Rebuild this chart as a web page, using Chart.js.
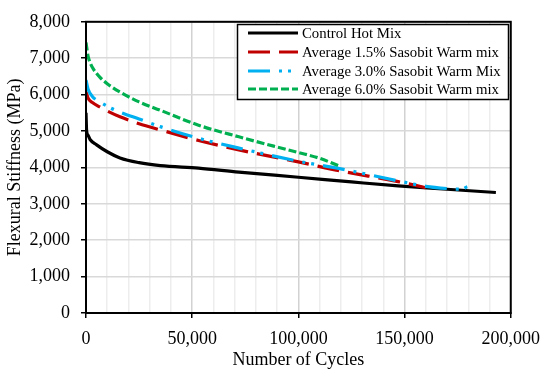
<!DOCTYPE html>
<html>
<head>
<meta charset="utf-8">
<script src="https://cdn.jsdelivr.net/npm/chart.js@4/dist/chart.umd.min.js"></script>
<style>
  html, body { margin: 0; padding: 0; background: #fff; }
  canvas { display: block; }
</style>
</head>
<body>
<canvas id="stiffnessChart" width="550" height="381"></canvas>
<script>
// 読み取った値 (サイクル数, 曲げ剛性 MPa)
const controlCycles = [0, 300, 1000, 2000, 5000, 10000, 16000, 25000, 35000, 53000, 72000, 100000, 125000, 147000, 170000, 193000];
const controlValues = [5500, 5000, 4880, 4760, 4620, 4430, 4260, 4130, 4050, 3980, 3870, 3730, 3600, 3490, 3400, 3310];

const sas15Cycles = [0, 1000, 3000, 6500, 10000, 16000, 25000, 35000, 53000, 72000, 100000, 120000, 147000, 160000];
const sas15Values = [6080, 5900, 5780, 5660, 5550, 5390, 5200, 5030, 4740, 4480, 4150, 3900, 3610, 3440];

const sas30Cycles = [0, 1000, 3000, 6500, 10000, 16000, 25000, 35000, 53000, 72000, 100000, 120000, 147000, 160000, 170000, 177000, 180000, 183000];
const sas30Values = [6400, 6150, 5950, 5800, 5680, 5520, 5330, 5120, 4800, 4530, 4170, 3960, 3630, 3480, 3420, 3400, 3470, 3380];

const sas60Cycles = [0, 1000, 2000, 3500, 6500, 10000, 16000, 25000, 35000, 53000, 72000, 90000, 100000, 110000, 120000];
const sas60Values = [7430, 7050, 6870, 6700, 6480, 6300, 6070, 5800, 5570, 5160, 4840, 4560, 4410, 4250, 4020];

const seriesLabels = [
    'Control Hot Mix',
    'Average 1.5% Sasobit Warm mix',
    'Average 3.0% Sasobit Warm Mix',
    'Average 6.0% Sasobit Warm mix'
];

const yTicks = [0, 1000, 2000, 3000, 4000, 5000, 6000, 7000, 8000];
const xTicks = [0, 50000, 100000, 150000, 200000];

function toPoints(xs, ys) {
    return xs.map((x, i) => ({ x: x, y: ys[i] }));
}

const seriesStyles = [
    { color: '#000000', dash: [] },
    { color: '#c00000', dash: [22, 9] },
    { color: '#00b0f0', dash: [22, 9, 3, 6, 3, 9] },
    { color: '#00b050', dash: [8, 3] }
];

Chart.defaults.font.family = '"Liberation Serif", "Times New Roman", serif';
Chart.defaults.font.size = 18;
Chart.defaults.color = '#000';

// 凡例（枠付き）をプロット内に描く
const boxLegend = {
    id: 'boxLegend',
    afterDraw(chart) {
        const c = chart.ctx;
        c.save();
        const bx = 237.5, by = 24.5, bw = 271, bh = 75;
        c.fillStyle = '#fff';
        c.fillRect(bx, by, bw, bh);
        c.strokeStyle = '#000';
        c.lineWidth = 1.5;
        c.strokeRect(bx, by, bw, bh);
        const rows = [33, 52, 71, 89];
        c.font = '14.8px "Liberation Serif", "Times New Roman", serif';
        c.textBaseline = 'middle';
        c.textAlign = 'left';
        seriesLabels.forEach((label, i) => {
            c.beginPath();
            c.setLineDash(seriesStyles[i].dash);
            c.strokeStyle = seriesStyles[i].color;
            c.lineWidth = 3;
            c.moveTo(248, rows[i]);
            c.lineTo(298, rows[i]);
            c.stroke();
            c.setLineDash([]);
            c.fillStyle = '#000';
            c.fillText(label, 302, rows[i] + 1);
        });
        c.restore();
    }
};

// プロットエリアの枠
const plotFrame = {
    id: 'plotFrame',
    afterDatasetsDraw(chart) {
        const a = chart.chartArea;
        const c = chart.ctx;
        c.save();
        c.strokeStyle = '#000';
        c.lineWidth = 2;
        c.strokeRect(a.left, a.top, a.right - a.left, a.bottom - a.top);
        c.restore();
    }
};

const ctx = document.getElementById('stiffnessChart').getContext('2d');
const allSeries = [
    [controlCycles, controlValues],
    [sas15Cycles, sas15Values],
    [sas30Cycles, sas30Values],
    [sas60Cycles, sas60Values]
];

const stiffnessChart = new Chart(ctx, {
    type: 'line',
    data: {
        datasets: allSeries.map((s, i) => ({
            label: seriesLabels[i],
            data: toPoints(s[0], s[1]),
            borderColor: seriesStyles[i].color,
            borderDash: seriesStyles[i].dash,
            borderWidth: 3.2,
            pointRadius: 0,
            cubicInterpolationMode: 'monotone',
            fill: false
        })).reverse()
    },
    options: {
        responsive: false,
        animation: false,
        layout: { padding: { top: 19, right: 37, left: 0, bottom: 0 } },
        plugins: {
            legend: { display: false },
            tooltip: { enabled: false }
        },
        scales: {
            x: {
                type: 'linear',
                min: 0,
                max: 200000,
                afterFit: (scale) => { scale.height = 68; },
                ticks: {
                    stepSize: 10000,
                    autoSkip: false,
                    maxRotation: 0,
                    padding: 10,
                    callback: (v) => xTicks.includes(v) ? v.toLocaleString('en-US') : ''
                },
                grid: {
                    color: (c) => (c.tick && c.tick.value % 50000 === 0) ? '#d2d2d2' : '#ededed',
                    tickColor: (c) => (c.tick && c.tick.value % 50000 === 0) ? '#000' : 'rgba(0,0,0,0)',
                    tickLength: 5,
                    lineWidth: 1.5
                },
                border: { display: true, color: '#000', width: 2 },
                title: {
                    display: true,
                    text: 'Number of Cycles',
                    padding: { top: 0, bottom: 10 }
                }
            },
            y: {
                min: 0,
                max: 8000,
                afterFit: (scale) => { scale.width = 86; },
                ticks: {
                    stepSize: 1000,
                    padding: 11,
                    callback: (v) => yTicks.includes(v) ? v.toLocaleString('en-US') : ''
                },
                grid: {
                    color: '#d9d9d9',
                    tickColor: '#000',
                    tickLength: 5,
                    lineWidth: 1.5
                },
                border: { display: true, color: '#000', width: 2 },
                title: {
                    display: true,
                    text: 'Flexural Stiffness (MPa)',
                    padding: { top: 4, bottom: 0 }
                }
            }
        }
    },
    plugins: [plotFrame, boxLegend]
});
</script>
</body>
</html>
